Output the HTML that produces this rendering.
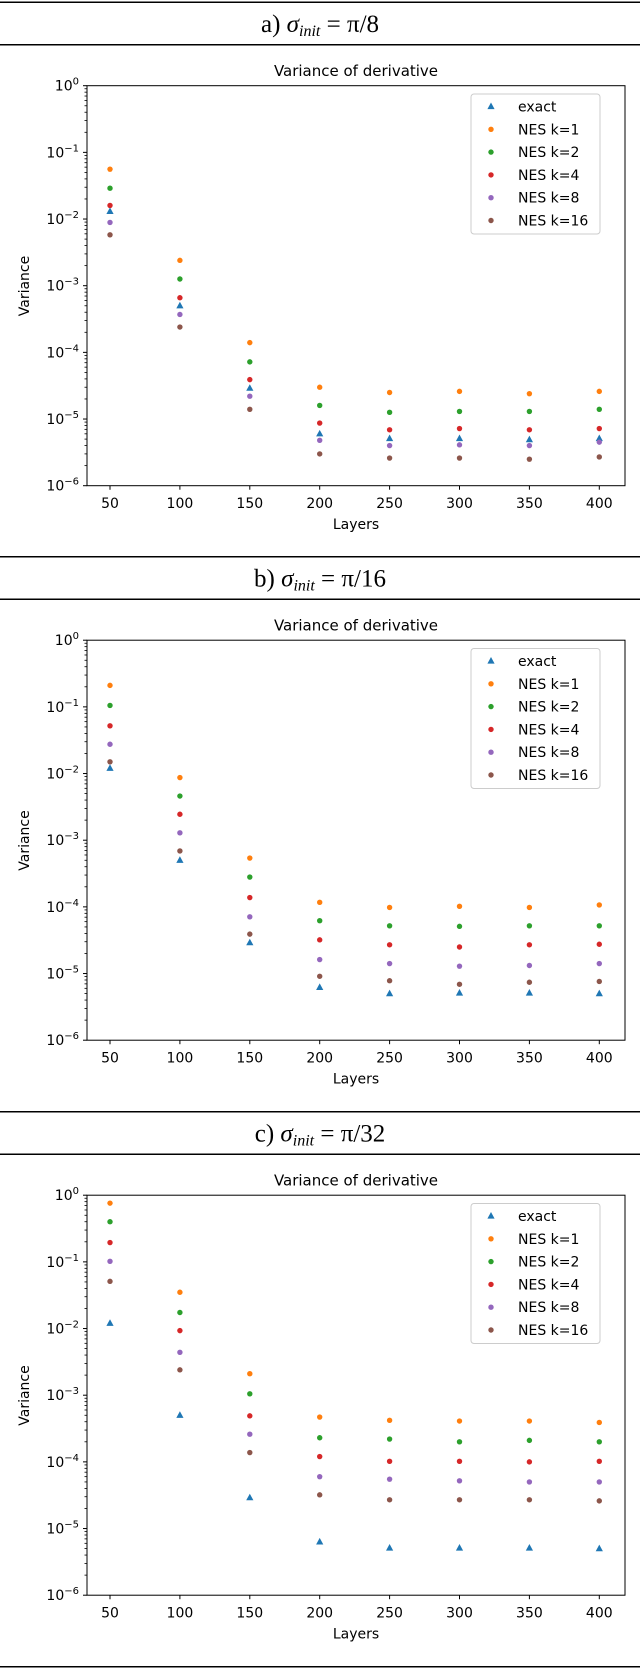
<!DOCTYPE html>
<html><head><meta charset="utf-8">
<style>
html,body{margin:0;padding:0;background:#fff;}
svg{display:block;}
</style></head>
<body>
<svg id="fig" width="640" height="1668" viewBox="0 0 640 1668" xmlns="http://www.w3.org/2000/svg"></svg>
<script>
const layers = [50, 100, 150, 200, 250, 300, 350, 400];
const seriesNames = ["exact", "NES k=1", "NES k=2", "NES k=4", "NES k=8", "NES k=16"];
const yTickExponents = [0, -1, -2, -3, -4, -5, -6];
const xTickLabels = ["50", "100", "150", "200", "250", "300", "350", "400"];

const a_exact = [1.3e-2, 5.0e-4, 2.9e-5, 6.0e-6, 5.1e-6, 5.1e-6, 4.9e-6, 5.1e-6];
const a_k1 = [5.6e-2, 2.4e-3, 1.4e-4, 3.0e-5, 2.5e-5, 2.6e-5, 2.4e-5, 2.6e-5];
const a_k2 = [2.9e-2, 1.26e-3, 7.2e-5, 1.6e-5, 1.26e-5, 1.3e-5, 1.3e-5, 1.4e-5];
const a_k4 = [1.6e-2, 6.6e-4, 3.9e-5, 8.7e-6, 6.9e-6, 7.2e-6, 6.9e-6, 7.2e-6];
const a_k8 = [8.9e-3, 3.7e-4, 2.2e-5, 4.8e-6, 4.0e-6, 4.1e-6, 4.0e-6, 4.5e-6];
const a_k16 = [5.8e-3, 2.4e-4, 1.4e-5, 3.0e-6, 2.6e-6, 2.6e-6, 2.5e-6, 2.7e-6];

const b_exact = [1.2e-2, 5.0e-4, 2.9e-5, 6.2e-6, 5.0e-6, 5.1e-6, 5.1e-6, 5.0e-6];
const b_k1 = [0.21, 8.7e-3, 5.4e-4, 1.17e-4, 9.8e-5, 1.02e-4, 9.8e-5, 1.07e-4];
const b_k2 = [0.105, 4.6e-3, 2.8e-4, 6.2e-5, 5.2e-5, 5.1e-5, 5.2e-5, 5.2e-5];
const b_k4 = [5.2e-2, 2.45e-3, 1.38e-4, 3.2e-5, 2.7e-5, 2.5e-5, 2.7e-5, 2.75e-5];
const b_k8 = [2.75e-2, 1.29e-3, 7.1e-5, 1.62e-5, 1.41e-5, 1.29e-5, 1.32e-5, 1.41e-5];
const b_k16 = [1.5e-2, 6.9e-4, 3.9e-5, 9.1e-6, 7.8e-6, 6.9e-6, 7.4e-6, 7.6e-6];

const c_exact = [1.2e-2, 5.0e-4, 2.9e-5, 6.3e-6, 5.1e-6, 5.1e-6, 5.1e-6, 5.0e-6];
const c_k1 = [0.76, 3.5e-2, 2.1e-3, 4.7e-4, 4.2e-4, 4.1e-4, 4.1e-4, 3.9e-4];
const c_k2 = [0.40, 1.74e-2, 1.05e-3, 2.3e-4, 2.2e-4, 2.0e-4, 2.1e-4, 2.0e-4];
const c_k4 = [0.195, 9.3e-3, 4.9e-4, 1.2e-4, 1.02e-4, 1.02e-4, 1.0e-4, 1.02e-4];
const c_k8 = [0.102, 4.4e-3, 2.6e-4, 6.0e-5, 5.5e-5, 5.2e-5, 5.0e-5, 5.0e-5];
const c_k16 = [5.1e-2, 2.4e-3, 1.38e-4, 3.2e-5, 2.7e-5, 2.7e-5, 2.7e-5, 2.6e-5];

const panelLetters = ["a", "b", "c"];
const panelDenoms = ["8", "16", "32"];

const NS = "http://www.w3.org/2000/svg";
const fig = document.getElementById("fig");
const colors = ["#1f77b4", "#ff7f0e", "#2ca02c", "#d62728", "#9467bd", "#8c564b"];
const SANS = '"DejaVu Sans","Liberation Sans",sans-serif';
const SERIF = '"Liberation Serif","DejaVu Serif",serif';

function mk(tag, attrs, parent) {
  const e = document.createElementNS(NS, tag);
  for (const k in attrs) e.setAttribute(k, attrs[k]);
  (parent || fig).appendChild(e);
  return e;
}

const panelsData = [
  [a_exact, a_k1, a_k2, a_k4, a_k8, a_k16],
  [b_exact, b_k1, b_k2, b_k4, b_k8, b_k16],
  [c_exact, c_k1, c_k2, c_k4, c_k8, c_k16]
];
const offsets = [0, 554.5, 1109.5];

const AX_L = 87, AX_R = 625, AX_T = 85.7, AX_B = 485.7;
function xScale(L) { return 110 + (L - 50) * 69.9 / 50; }

panelsData.forEach((series, pi) => {
  const o = offsets[pi];
  const g = mk("g", {});
  
  
  const yScale = v => o + AX_T + (-Math.log10(v)) * (AX_B - AX_T) / 6;

  const r1 = mk("rect", {x: 0, y: o + 1.5, width: 640, height: 1.5, fill: "#000"}, g);
  
  
  const r2 = mk("rect", {x: 0, y: o + 44, width: 640, height: 1.5, fill: "#000"}, g);
  
  
  if (pi === 2) {
    const r3 = mk("rect", {x: 0, y: 1666, width: 640, height: 1.5, fill: "#000"}, g);
    
    
  }

  const h = mk("text", {x: 320, y: o + 32, "text-anchor": "middle", "font-family": SERIF, "font-size": 25, fill: "#000"}, g);
  
  
  const t1 = mk("tspan", {}, h); t1.textContent = panelLetters[pi] + ") ";
  const t2 = mk("tspan", {"font-style": "italic"}, h); t2.textContent = "σ";
  const t3 = mk("tspan", {"font-style": "italic", "font-size": 16, dy: 4}, h); t3.textContent = "init";
  const t4 = mk("tspan", {dy: -4}, h); t4.textContent = " = π/" + panelDenoms[pi];

  const ct = mk("text", {x: 356, y: o + 76, "text-anchor": "middle", "font-family": SANS, "font-size": 15, fill: "#000"}, g);
  
  
  ct.textContent = "Variance of derivative";

  const fr = mk("rect", {x: AX_L, y: o + AX_T, width: AX_R - AX_L, height: AX_B - AX_T, fill: "none", stroke: "#000", "stroke-width": 1}, g);
  
  

  yTickExponents.forEach(ex => {
    const y = yScale(Math.pow(10, ex));
    const tk = mk("line", {x1: AX_L - 4, x2: AX_L, y1: y, y2: y, stroke: "#000", "stroke-width": 1}, g);
    
    
    const lb = mk("text", {x: 79, y: y + 5, "text-anchor": "end", "font-family": SANS, "font-size": 14, fill: "#000"}, g);
    
    
    const s1 = mk("tspan", {}, lb); s1.textContent = "10";
    const s2 = mk("tspan", {"font-size": 10, dy: -6}, lb); s2.textContent = ex === 0 ? "0" : "−" + (-ex);
    if (ex > -6) {
      for (let m = 2; m <= 9; m++) {
        const yy = yScale(m * Math.pow(10, ex - 1));
        const mt = mk("line", {x1: AX_L - 2.5, x2: AX_L, y1: yy, y2: yy, stroke: "#000", "stroke-width": 0.8}, g);
        
        
      }
    }
  });

  layers.forEach((L, i) => {
    const x = xScale(L);
    const tk = mk("line", {x1: x, x2: x, y1: o + AX_B, y2: o + AX_B + 4, stroke: "#000", "stroke-width": 1}, g);
    
    
    const lb = mk("text", {x: x, y: o + 508, "text-anchor": "middle", "font-family": SANS, "font-size": 14, fill: "#000"}, g);
    
    
    lb.textContent = xTickLabels[i];
  });

  const xl = mk("text", {x: 356, y: o + 529, "text-anchor": "middle", "font-family": SANS, "font-size": 14, fill: "#000"}, g);
  
  
  xl.textContent = "Layers";
  const yl = mk("text", {x: 0, y: 0, "text-anchor": "middle", "font-family": SANS, "font-size": 14, fill: "#000", transform: "translate(29," + (o + 286) + ") rotate(-90)"}, g);
  
  
  yl.textContent = "Variance";

  series.forEach((vals, si) => {
    vals.forEach((v, i) => {
      const x = xScale(layers[i]), y = yScale(v);
      let p;
      if (si === 0) {
        p = mk("polygon", {points: (x) + "," + (y - 4) + " " + (x - 3.6) + "," + (y + 2.6) + " " + (x + 3.6) + "," + (y + 2.6), fill: colors[0]}, g);
        
      } else {
        p = mk("circle", {cx: x, cy: y, r: 2.7, fill: colors[si]}, g);
        
      }
      
    });
  });

  const lg = mk("g", {}, g);
  
  
  mk("rect", {x: 471, y: o + 94, width: 129, height: 140, rx: 3, fill: "#fff", "fill-opacity": 0.8, stroke: "#cccccc", "stroke-width": 1}, lg);
  seriesNames.forEach((nm, si) => {
    const y = o + 106.5 + si * 22.8;
    const ent = mk("g", {}, lg);
    
    
    if (si === 0) {
      mk("polygon", {points: "491," + (y - 4) + " 487.4," + (y + 2.6) + " 494.6," + (y + 2.6), fill: colors[0]}, ent);
    } else {
      mk("circle", {cx: 491, cy: y, r: 2.7, fill: colors[si]}, ent);
    }
    const tx = mk("text", {x: 518, y: y + 5, "font-family": SANS, "font-size": 14, fill: "#000"}, ent);
    tx.textContent = nm;
  });
});
</script>
</body></html>
